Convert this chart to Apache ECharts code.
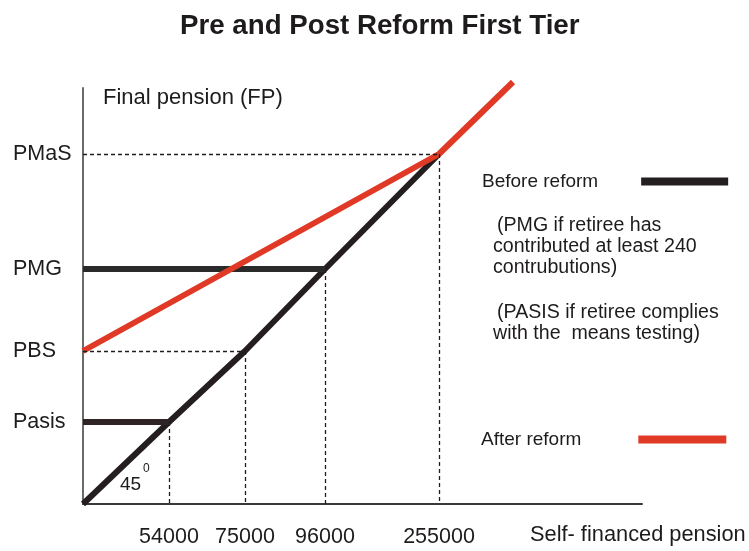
<!DOCTYPE html>
<html><head><meta charset="utf-8">
<script src="https://cdn.jsdelivr.net/npm/echarts@6/dist/echarts.min.js"></script>
<style>html,body{margin:0;padding:0;background:#fff}#c{width:749px;height:551px}</style>
</head><body><div id="c"></div>
<script>
// Schematic chart: tick positions are schematic (not to scale), labels carry the values
const xLabels = ['54000', '75000', '96000', '255000'];
const xPos = [86, 162, 242, 356];
const yLabels = ['Pasis', 'PBS', 'PMG', 'PMaS'];
const yPos = [82, 153, 235, 350];
const redEnd = [430, 422];
const noteBefore1 = ['(PMG if retiree has', 'contributed at least 240', 'contrubutions)'];
const noteBefore2 = ['(PASIS if retiree complies', 'with the  means testing)'];

const FONT = 'Liberation Sans, Arial, Helvetica, sans-serif';
const TXT = '#1e1b1c';

const diag = [[0, 0]].concat(xPos.map((x, i) => [x, yPos[i]]));
const pasisLine = [[0, yPos[0]], [xPos[0], yPos[0]]];
const pmgLine = [[0, yPos[2]], [xPos[2], yPos[2]]];
const redLine = [[0, yPos[1]], [xPos[3], yPos[3]], redEnd];

const guides = [
  [{coord: [0, yPos[3]]}, {coord: [xPos[3], yPos[3]]}],
  [{coord: [xPos[3], yPos[3]]}, {coord: [xPos[3], 0]}],
  [{coord: [0, yPos[1]]}, {coord: [xPos[1], yPos[1]]}],
  [{coord: [xPos[1], yPos[1]]}, {coord: [xPos[1], 0]}],
  [{coord: [xPos[2], yPos[2]]}, {coord: [xPos[2], 0]}],
  [{coord: [xPos[0], yPos[0]]}, {coord: [xPos[0], 0]}]
];

const chart = echarts.init(document.getElementById('c'));
chart.setOption({
  animation: false,
  backgroundColor: '#fff',
  title: {
    text: 'Pre and Post Reform First Tier',
    left: 175, top: 7,
    textStyle: {fontFamily: FONT, fontSize: 27.7, fontWeight: 'bold', color: TXT}
  },
  grid: {left: 83, top: 88, width: 559, height: 416, containLabel: false},
  xAxis: {
    type: 'value', min: 0, max: 559,
    axisLine: {show: true, lineStyle: {color: '#3a3a3a', width: 2}},
    axisTick: {show: false},
    splitLine: {show: false},
    axisLabel: {
      customValues: xPos, margin: 22,
      fontFamily: FONT, fontSize: 21.5, color: TXT,
      formatter: v => xLabels[xPos.indexOf(v)] || ''
    }
  },
  yAxis: {
    type: 'value', min: 0, max: 416,
    axisLine: {show: true, lineStyle: {color: '#6a6a6a', width: 2}},
    axisTick: {show: false},
    splitLine: {show: false},
    axisLabel: {
      customValues: yPos, margin: 70, align: 'left',
      fontFamily: FONT, fontSize: 21.5, color: TXT,
      formatter: v => yLabels[yPos.indexOf(v)] || ''
    }
  },
  legend: [
    {data: ['Before reform'], left: 482, top: 172, align: 'right', icon: 'rect',
     itemWidth: 87, itemHeight: 8, selectedMode: false, padding: 0,
     textStyle: {fontFamily: FONT, fontSize: 19, color: TXT, padding: [0, 38, 0, 0]}},
    {data: ['After reform'], left: 481, top: 430, align: 'right', icon: 'rect',
     itemWidth: 88, itemHeight: 8, selectedMode: false, padding: 0,
     textStyle: {fontFamily: FONT, fontSize: 19, color: TXT, padding: [0, 52, 0, 0]}}
  ],
  graphic: [
    {type: 'text', left: 103, top: 87, style: {text: 'Final pension (FP)', font: '22px ' + FONT, fill: TXT}},
    {type: 'text', left: 530, top: 524, style: {text: 'Self- financed pension', font: '21.8px ' + FONT, fill: TXT}},
    {type: 'text', left: 120, top: 475, style: {text: '45', font: '19px ' + FONT, fill: TXT}},
    {type: 'text', left: 143, top: 463, style: {text: '0', font: '12px ' + FONT, fill: TXT}},
    {type: 'text', left: 497, top: 216, style: {text: noteBefore1[0], font: '19.6px ' + FONT, fill: TXT}},
    {type: 'text', left: 493, top: 237, style: {text: noteBefore1[1], font: '19.6px ' + FONT, fill: TXT}},
    {type: 'text', left: 493, top: 258, style: {text: noteBefore1[2], font: '19.6px ' + FONT, fill: TXT}},
    {type: 'text', left: 497, top: 303, style: {text: noteBefore2[0], font: '19.6px ' + FONT, fill: TXT}},
    {type: 'text', left: 493, top: 324, style: {text: noteBefore2[1], font: '19.6px ' + FONT, fill: TXT}}
  ],
  series: [
    {name: 'guides', type: 'line', data: [], z: 1, silent: true,
     markLine: {silent: true, symbol: ['none', 'none'], label: {show: false},
       lineStyle: {type: [4, 3], width: 1.3, color: '#1e1e1e'}, data: guides}},
    {name: 'Before reform', type: 'line', data: diag, color: '#241e20', showSymbol: false, symbol: 'none',
     lineStyle: {width: 6, color: '#241e20'}, z: 3},
    {name: 'Before reform', type: 'line', data: pasisLine, color: '#2e2426', showSymbol: false, symbol: 'none',
     lineStyle: {width: 6, color: '#2e2426'}, z: 3},
    {name: 'Before reform', type: 'line', data: pmgLine, color: '#241e20', showSymbol: false, symbol: 'none',
     lineStyle: {width: 6, color: '#2a2a2a'}, z: 3},
    {name: 'After reform', type: 'line', data: redLine, color: '#e03a27', showSymbol: false, symbol: 'none',
     clip: false, lineStyle: {width: 6, color: '#e03a27'}, z: 4}
  ]
});
</script></body></html>
